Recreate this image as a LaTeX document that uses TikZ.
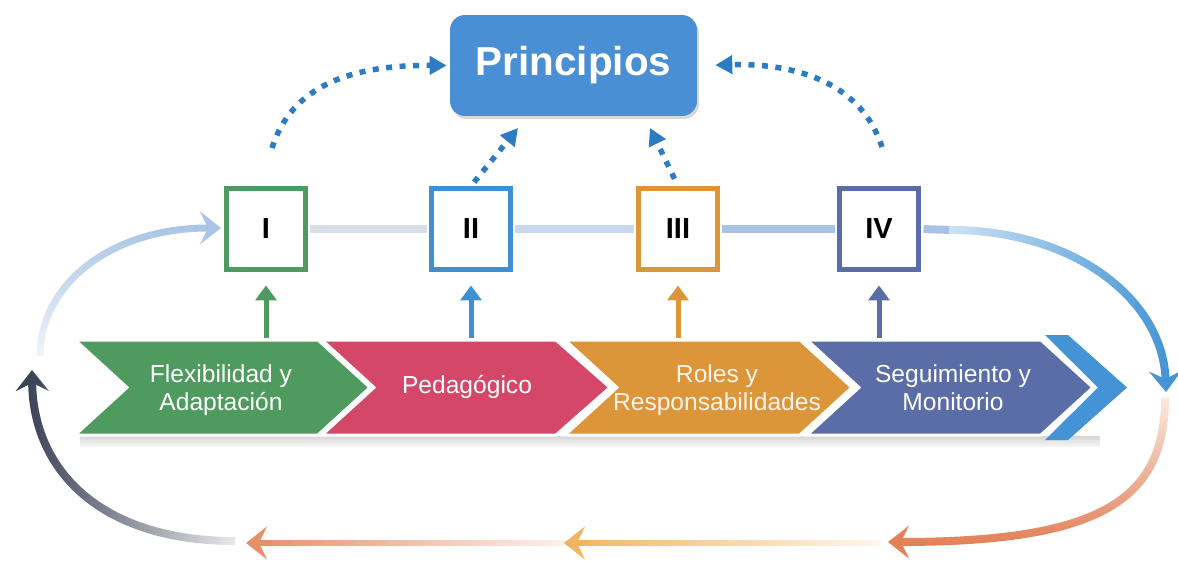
\documentclass[tikz,border=0pt]{standalone}
\usepackage{fontspec}
\setmainfont{Liberation Sans}
\usetikzlibrary{arrows.meta,shadows,fadings}

\definecolor{flexgreen}{HTML}{4F9B5F}
\definecolor{pedared}{HTML}{D44768}
\definecolor{roleorange}{HTML}{DD953A}
\definecolor{seguislate}{HTML}{5A6DA6}
\definecolor{bandblue}{HTML}{4393D5}
\definecolor{prinblue}{HTML}{4A8FD3}
\definecolor{dotblue}{HTML}{2C7CC3}
\definecolor{boxblue}{HTML}{3F90D3}
\definecolor{lightloop}{HTML}{A9C4E6}
\definecolor{darkloop}{HTML}{3D4357}
\definecolor{salmon}{HTML}{E8906B}
\definecolor{paleorange}{HTML}{F1B564}
\definecolor{rightorange}{HTML}{E27F55}
\definecolor{rowgray}{HTML}{D9DFE8}
\definecolor{rowblue}{HTML}{C8D9EF}
\definecolor{rowblueb}{HTML}{A9C3E6}

\tikzfading[name=fadeoutR, left color=transparent!0, right color=transparent!90]
\tikzfading[name=fadeoutL, left color=transparent!75, right color=transparent!0]
\tikzfading[name=fadeoutT, top color=transparent!85, bottom color=transparent!0]
\tikzfading[name=fadeoutB, top color=transparent!0, bottom color=transparent!85]

\tikzset{
  prinbox/.style={fill=prinblue, rounded corners=0.3cm, minimum width=4.94cm,
    minimum height=2.02cm, text=white, font=\fontsize{23}{26}\selectfont\bfseries,
    drop shadow={opacity=0.3, shadow xshift=0.04cm, shadow yshift=-0.06cm}},
  numbox/.style={draw=#1, fill=white, line width=0.1cm, minimum width=1.58cm,
    minimum height=1.62cm, font=\fontsize{16.5}{18}\selectfont\bfseries,
    drop shadow={opacity=0.25, shadow xshift=0.05cm, shadow yshift=-0.05cm}},
  chevron/.style={draw=white, line width=0.06cm, line join=miter},
  chevtext/.style={text=white, align=center, font=\fontsize{14}{16}\selectfont},
  dotarrow/.style={draw=dotblue, line width=0.11cm, dash pattern=on 0.12cm off 0.15cm,
    -{Triangle[length=0.34cm,width=0.36cm]}},
  uparrow/.style={line width=0.1cm, shorten >=0.27cm, -{Triangle[length=0.3cm,width=0.42cm]}},
  rowline/.style={line width=0.16cm, shorten <=0.05cm, shorten >=0.05cm},
  cyclearrow/.style={line width=0.16cm, -{Stealth[length=0.42cm,width=0.66cm,inset=0.16cm]}},
}

\begin{document}
\begin{tikzpicture}[x=0.02cm,y=-0.02cm]
\useasboundingbox (0,0) rectangle (1178,561);

% top node and the four steps
\node[prinbox] (prin) at (573.5,65.5) {Principios};
\node[numbox=flexgreen] (b1) at (266,229) {I};
\node[numbox=boxblue] (b2) at (471,229) {II};
\node[numbox=roleorange] (b3) at (678,229) {III};
\node[numbox=seguislate] (b4) at (879,229) {IV};

% line through the steps
\draw[rowline, rowgray] (b1.east) -- (b2.west);
\draw[rowline, rowblue] (b2.east) -- (b3.west);
\draw[rowline, rowblueb] (b3.east) -- (b4.west);
\draw[rowline, rowblueb] (b4.east) -- (952,230);

% the cycle round the row
\draw[cyclearrow, bandblue, path fading=fadeoutL]
  (950,230) .. controls (1075,230) and (1163,300) .. (1166,392);
\draw[cyclearrow, rightorange, path fading=fadeoutT]
  (1165,398) .. controls (1165,500) and (1100,542) .. (888,542);
\draw[paleorange, line width=0.13cm, path fading=fadeoutR] (880,543) -- (575,543);
\draw[cyclearrow, paleorange, line width=0.13cm] (590,543) -- (564,543);
\draw[salmon, line width=0.13cm, path fading=fadeoutR] (570,543) -- (258,543);
\draw[cyclearrow, salmon, line width=0.13cm] (272,543) -- (246,543);
\draw[cyclearrow, darkloop, path fading=fadeoutR]
  (235,541) .. controls (100,541) and (33,470) .. (32,370);
\draw[cyclearrow, lightloop, line width=0.14cm, path fading=fadeoutB]
  (40,356) .. controls (40,285) and (110,228) .. (221,228);

% chevrons
\fill[black!16, path fading=fadeoutB] (80,436) rectangle (1100,447);
\fill[bandblue] (1045,335) -- (1068,335) -- (1127,387.5) -- (1068,440) -- (1045,440) -- (1098,387.5) -- cycle;
\filldraw[chevron, fill=flexgreen] (75,340) -- (318,340) -- (370,387.5) -- (318,435) -- (75,435) -- (127,387.5) -- cycle;
\filldraw[chevron, fill=pedared] (322,340) -- (556,340) -- (610,387.5) -- (556,435) -- (322,435) -- (374,387.5) -- cycle;
\filldraw[chevron, fill=roleorange] (565,340) -- (800,340) -- (852,387.5) -- (800,435) -- (565,435) -- (617,387.5) -- cycle;
\filldraw[chevron, fill=seguislate] (807,340) -- (1041,340) -- (1093,387.5) -- (1041,435) -- (807,435) -- (859,387.5) -- cycle;

\node[chevtext] (flex) at (221,390) {Flexibilidad y\\Adaptación};
\node[chevtext] (peda) at (467,387) {Pedagógico};
\node[chevtext, text=orange!8] (roles) at (717,390) {Roles y\\Responsabilidades};
\node[chevtext] (segui) at (953,388) {Seguimiento y\\Monitorio};

% from each chevron up to its step
\path (266,338) coordinate (t1) (471,338) coordinate (t2)
      (678,338) coordinate (t3) (879,338) coordinate (t4);
\draw[uparrow, flexgreen] (t1) -- (b1.south);
\draw[uparrow, boxblue] (t2) -- (b2.south);
\draw[uparrow, roleorange] (t3) -- (b3.south);
\draw[uparrow, seguislate] (t4) -- (b4.south);

% dotted arrows to Principios
\path (272,148) coordinate (d1) (882,147) coordinate (d4)
      (518,128) coordinate (p2) (650,128) coordinate (p3);
\draw[dotarrow, shorten >=0.06cm] (d1) .. controls (292,85) and (352,65) .. (prin.west);
\draw[dotarrow, shorten <=0.1cm] (b2.north) -- (p2);
\draw[dotarrow, shorten <=0.16cm] (b3.north) -- (p3);
\draw[dotarrow, shorten >=0.36cm] (d4) .. controls (862,85) and (800,63) .. (prin.east);
\end{tikzpicture}
\end{document}
